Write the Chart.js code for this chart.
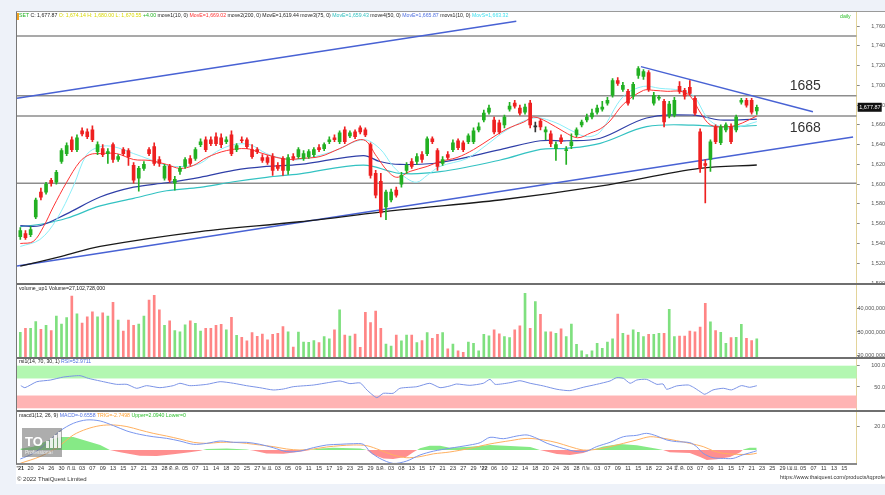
<!DOCTYPE html>
<html lang="th">
<head>
<meta charset="utf-8">
<title>SET daily</title>
<script src="https://cdn.jsdelivr.net/npm/chart.js@4.4.1/dist/chart.umd.min.js"></script>
<style>
  html, body { margin: 0; padding: 0; }
  body { width: 885px; height: 495px; background: #eef2f9; position: relative; overflow: hidden;
         font-family: "Liberation Sans", Arial, sans-serif; }
  #sheet { position: absolute; left: 16px; top: 11px; width: 869px; height: 473px; background: #fff; }
  canvas { position: absolute; left: 0; }
  .sep { position: absolute; left: 16px; width: 869px; background: #6f6f6f; }
  .txt { position: absolute; white-space: nowrap; font-size: 5.2px; color: #222; line-height: 1; }
  #mark { position: absolute; left: 22px; top: 428px; width: 40px; height: 29px; background: rgba(105,105,105,0.55);
          color: #fff; font-weight: bold; font-size: 13px; line-height: 1; }
  #mark i { position: absolute; bottom: 9px; width: 3px; background: rgba(255,255,255,0.85); }
</style>
</head>
<body>
<div id="sheet"></div>
<canvas id="cPrice" width="885" height="272" style="top:12px"></canvas>
<canvas id="cVol" width="885" height="72" style="top:285px"></canvas>
<canvas id="cRsi" width="885" height="51" style="top:359px"></canvas>
<canvas id="cMacd" width="885" height="64" style="top:412px"></canvas>

<div class="sep" style="top:11px;height:1px;background:#9a9a9a"></div>
<div class="sep" style="top:283px;height:2px"></div>
<div class="sep" style="top:357px;height:2px"></div>
<div class="sep" style="top:410px;height:2px"></div>
<div class="sep" style="top:463px;height:2px;width:841px;background:#8a8a8a"></div>
<div style="position:absolute;left:16px;top:12px;width:1px;height:452px;background:#777"></div>
<div style="position:absolute;left:17px;top:13px;width:2px;height:7px;background:#f0a020"></div>

<div class="txt" style="left:19px;top:13px">
  <span style="color:#22b322">SET</span> C: 1,677.87
  <span style="color:#d8d800">O: 1,674.14 H: 1,680.00 L: 1,670.55</span>
  <span style="color:#22b322">+4.00</span>
  move1(10, 0) <span style="color:#ff3030">MovE=1,669.02</span>
  move2(200, 0) MovE=1,619.44
  move3(75, 0) <span style="color:#30c0c0">MovE=1,659.43</span>
  move4(50, 0) <span style="color:#5070e0">MovE=1,665.87</span>
  movs1(10, 0) <span style="color:#40e0f0">MovS=1,663.32</span>
</div>
<div class="txt" style="left:840px;top:14px;color:#30c030">daily</div>
<div class="txt" style="left:19px;top:286px">volume_up1 Volume=27,102,728,000</div>
<div class="txt" style="left:19px;top:359px">rsi1(14, 70, 30, 1) <span style="color:#5070e0">RSI=52.9711</span></div>
<div class="txt" style="left:19px;top:413px">macd1(12, 26, 9) <span style="color:#5070e0">MACD=-0.6558</span>
  <span style="color:#ffa030">TRIG=-2.7498</span> <span style="color:#30c030">Upper=2.0940 Lower=0</span></div>
<div id="mark"><div style="position:absolute;left:3px;top:7px">TO</div>
  <i style="left:24px;height:7px"></i><i style="left:28px;height:10px"></i><i style="left:32px;height:13px"></i><i style="left:36px;height:16px"></i>
  <div style="position:absolute;left:3px;top:22px;font-size:5px;font-weight:normal;opacity:.8">Professional</div></div>
<div class="txt" style="left:17px;top:476px;font-size:6px;color:#333">© 2022 ThaiQuest Limited</div>
<div class="txt" style="left:780px;top:475px;font-size:5.5px;color:#333">https://www.thaiquest.com/products/tqprofessional</div>

<script>
// ============================================
// DATA - SET index, daily
// ============================================
const opens = [
  1547,1550,1549,1567,1592,1592,1604,1602,1623,1631,
  1645,1635,1654,1653,1655,1633,1636,1631,1640,1625,
  1635,1634,1619,1606,1616,1635,1638,1625,1606,1618,
  1601,1613,1618,1626,1626,1640,1645,1645,1648,1647,
  1643,1650,1635,1645,1645,1635,1635,1627,1627,1628,
  1619,1626,1614,1628,1628,1626,1628,1630,1637,1636,
  1643,1647,1643,1655,1649,1653,1657,1655,1640,1611,
  1603,1577,1584,1594,1600,1614,1623,1623,1630,1631,
  1646,1634,1621,1630,1635,1644,1642,1643,1643,1655,
  1665,1673,1665,1662,1660,1676,1682,1677,1673,1682,
  1658,1664,1653,1651,1636,1647,1634,1639,1650,1660,
  1665,1668,1673,1676,1682,1690,1705,1696,1694,1689,
  1710,1709,1713,1682,1687,1684,1669,1670,1699,1695,
  1698,1687,1653,1621,1625,1658,1642,1655,1658,1655,
  1683,1685,1685,1674.14
];
const highs = [
  1556,1553,1557,1586,1596,1602,1606,1614,1636,1642,
  1648,1650,1657,1656,1659,1643,1640,1636,1642,1630,
  1637,1636,1622,1618,1623,1637,1642,1628,1620,1620,
  1608,1618,1627,1629,1637,1646,1648,1648,1652,1651,
  1648,1654,1641,1648,1647,1640,1637,1630,1629,1631,
  1622,1628,1630,1631,1637,1634,1635,1637,1640,1642,
  1648,1650,1654,1658,1654,1655,1659,1657,1642,1614,
  1611,1594,1595,1597,1612,1622,1626,1631,1633,1648,
  1648,1636,1628,1633,1645,1646,1644,1651,1657,1662,
  1675,1680,1668,1665,1670,1683,1685,1680,1681,1685,
  1663,1666,1658,1654,1643,1650,1638,1651,1657,1665,
  1671,1676,1680,1684,1688,1707,1708,1703,1696,1703,
  1719,1716,1715,1693,1690,1686,1684,1688,1704,1697,
  1705,1689,1656,1625,1645,1660,1660,1662,1661,1670,
  1687,1687,1687,1680.00
];
const lows = [
  1544,1544,1547,1565,1584,1590,1598,1600,1621,1629,
  1633,1633,1649,1646,1643,1630,1628,1621,1622,1623,
  1629,1619,1601,1593,1614,1629,1619,1618,1604,1602,
  1594,1610,1616,1619,1624,1638,1633,1639,1639,1637,
  1641,1629,1633,1642,1636,1626,1631,1622,1620,1609,
  1614,1609,1610,1624,1626,1624,1626,1628,1633,1634,
  1641,1643,1641,1641,1647,1646,1651,1648,1606,1586,
  1567,1564,1582,1587,1597,1611,1616,1620,1622,1629,
  1641,1614,1619,1625,1633,1635,1633,1641,1641,1653,
  1663,1671,1651,1651,1657,1674,1677,1670,1671,1657,
  1653,1655,1645,1638,1624,1641,1620,1636,1648,1658,
  1663,1666,1671,1674,1680,1688,1700,1694,1680,1686,
  1707,1706,1694,1680,1685,1658,1667,1668,1692,1686,
  1690,1670,1612,1581,1613,1641,1640,1653,1641,1653,
  1681,1678,1671,1670.55
];
const closes = [
  1553,1546,1554,1584,1587,1600,1601,1612,1634,1639,
  1635,1647,1651,1648,1645,1640,1630,1633,1625,1628,
  1631,1628,1604,1616,1620,1631,1621,1621,1618,1604,
  1605,1616,1625,1621,1635,1643,1635,1641,1641,1640,
  1645,1631,1639,1644,1638,1628,1633,1624,1622,1614,
  1616,1614,1627,1626,1635,1631,1633,1635,1635,1640,
  1645,1645,1652,1643,1652,1648,1653,1650,1609,1589,
  1571,1592,1592,1589,1609,1619,1618,1628,1625,1646,
  1643,1618,1625,1627,1642,1637,1635,1649,1654,1658,
  1672,1677,1653,1653,1668,1679,1679,1672,1678,1660,
  1658,1658,1655,1641,1640,1643,1635,1643,1655,1663,
  1668,1672,1677,1678,1685,1705,1702,1700,1682,1701,
  1717,1714,1696,1690,1688,1663,1681,1685,1694,1689,
  1692,1672,1616,1619,1643,1643,1658,1660,1643,1668,
  1685,1680,1673,1677.87
];
// volume, millions
const volumes = [
  29.9,31.6,31.6,34.4,31.1,32.8,30.6,36.8,33.4,36.1,
  45.3,37.7,33.8,36.5,38.6,36.5,38.2,36.8,42.6,35.1,
  30.4,35.1,32.8,33.4,36.8,43.6,45.6,39.4,32.8,34.7,
  30.6,30.1,33.0,34.7,33.7,30.4,31.6,31.6,32.8,33.3,
  30.9,36.2,28.6,27.7,26.2,29.7,28.2,29.1,26.7,29.0,
  29.4,32.3,30.1,23.6,30.0,25.7,25.6,26.3,25.5,28.0,
  27.1,30.9,39.4,28.7,28.3,29.1,23.5,38.4,34.0,38.9,
  31.6,24.9,24.0,28.7,26.2,28.7,28.7,25.5,26.3,29.7,
  27.3,29.0,29.7,22.8,24.9,22.0,21.4,25.7,25.2,22.0,
  29.0,28.4,30.9,29.2,28.0,27.6,30.9,32.6,46.5,31.6,
  42.9,37.5,30.1,30.1,29.4,31.4,28.0,33.4,24.8,22.0,
  20.4,22.0,25.2,23.1,25.7,27.1,37.6,29.4,28.7,30.9,
  29.9,28.0,29.0,29.0,29.4,29.4,39.6,28.0,28.3,28.3,
  30.4,30.1,32.1,42.2,34.3,30.6,29.9,25.2,27.6,27.7,
  33.3,27.3,26.3,27.1
];

// moving averages: [day index, value]
const emaFast = [[0,1540],[2.5,1542],[4.5,1557],[6.4,1577],[9,1602],[11.6,1623],[13.5,1630],[15.5,1631],[18.7,1631],
  [22,1625],[25.2,1624],[28.4,1620],[31,1616],[33.6,1619],[36.2,1627],[40,1634],[43.9,1636],[46.5,1632],[49.8,1627],
  [52.4,1625],[54.3,1626],[58.2,1628],[62,1636],[66.6,1645],[69.2,1628],[71.2,1614],[73.1,1607],[75.7,1613],[79,1618],
  [81.5,1623],[84.8,1627],[88,1635],[91.3,1646],[94.5,1656],[97.8,1663],[99.7,1668],[102.3,1663],[105.6,1653],
  [108.2,1647],[110.8,1652],[112.6,1656],[114.5,1664],[117.1,1681],[121,1695],[123,1695],[125.6,1694],[128.2,1694],
  [130.1,1689],[132.1,1672],[134,1660],[136.6,1658],[139.2,1660],[143,1669.02]];
const smaFast = [[0,1537],[3.8,1544],[7,1564],[10.3,1598],[12.9,1630],[15.5,1638],[18.1,1638],[22,1631],[25.2,1625],
  [28.4,1619],[31.6,1618],[34.9,1621],[38.1,1633],[41.4,1640],[44.6,1640],[47.8,1631],[51.1,1626],[54.3,1625],
  [60.6,1633],[66.6,1645],[69.8,1636],[72.4,1618],[75,1606],[77,1602],[79,1609],[81.5,1618],[86.7,1626],[90.6,1640],
  [94.5,1655],[99.7,1667],[103.6,1663],[107.5,1653],[110.1,1648],[112.6,1653],[117.1,1689],[121,1699],[124.2,1697],
  [128.2,1695],[130.8,1689],[133.4,1667],[136,1658],[138.6,1657],[143,1663.32]];
const ema50 = [[0,1558],[3.8,1558],[9,1570],[15.5,1587],[22,1597],[28.4,1601.5],[34.9,1607],[41.4,1614],[47.8,1618],
  [54.3,1620],[66.6,1629],[69.8,1623],[73.7,1620],[81.5,1622],[93.2,1635],[101,1644],[106.1,1644],[112.6,1646.5],
  [121.6,1667],[130.7,1670],[135.9,1665],[143,1665.87]];
const ema75 = [[0,1557],[4.5,1560],[9,1565.5],[15.5,1578],[22,1585.7],[28.4,1593.4],[34.9,1596.8],[41.4,1602.5],
  [47.8,1607],[54.3,1610.5],[66.6,1619.4],[73.7,1611],[81.5,1612.7],[93.2,1624.5],[101,1635.3],[106.1,1636.3],
  [112.6,1641.4],[121.6,1658.2],[130.7,1659.9],[135.9,1658.2],[143,1659.43]];
const ema200 = [[0,1517],[8,1527],[15.5,1537],[34.9,1552],[54.3,1562],[73.7,1574],[93.1,1584],[112.5,1598],
  [131.9,1616],[143,1619.44]];

// drawn trend lines and levels
const channelTop = [[-0.64,1687],[96.3,1765]];
const channelBottom = [[-0.64,1517.2],[161.7,1647.8]];
const fallingLine = [[120.5,1719],[153.9,1673.4]];
const levels = [1750, 1689.5, 1669, 1601];
const levelNotes = [['1685', 1689.5, 'above'], ['1668', 1669, 'below']];

// RSI 14
const rsi = [[0.1,53.1],[0.9,48.4],[3.2,62.4],[5.8,66.2],[8.4,73.4],[11.6,76.6],[13.2,70.3],[15.5,64.1],[18.7,56.2],
  [20.7,56.2],[22.6,46.9],[24.5,53.1],[27.1,48.4],[29.7,53.1],[31,58.7],[32.9,53.1],[36.2,56.2],[38.8,62.4],
  [41.4,58.7],[43.9,53.1],[46.5,48.4],[49.1,43],[51.1,45.3],[53,50.7],[56.9,54.6],[60.1,60.9],[62.1,64.1],
  [64,57.9],[66,59.5],[67.3,43],[69.2,25],[70.5,35.2],[72.4,35.2],[73.7,46.9],[77,50.7],[79.5,58.7],[81.5,48.4],
  [83.4,52.4],[84.7,57],[87.3,53.9],[89.9,58.7],[91.2,67.9],[92.2,56.2],[95.1,60.1],[97,64.7],[99,58.7],
  [101.6,52.4],[104.2,44.6],[106.7,41.4],[109.3,49.3],[111.9,56.2],[114.5,64.1],[115.8,71.9],[117.1,70.3],
  [118.4,58.7],[119.7,66.4],[121.6,67.9],[123.6,56.2],[124.8,57],[125.5,44.6],[127.4,52.4],[129.7,54.7],
  [130.7,49.3],[132,39.1],[132.9,32.9],[134.5,43.1],[136.5,47],[138.1,43.1],[140,53.2],[141.6,49.3],[143,52.97]];
const rsiUpperBand = [70, 100];
const rsiLowerBand = [0, 30];

// MACD 12,26,9
const macdLine = [[0,-7.7],[2.5,-2.9],[5.1,5.7],[7.7,16.3],[10.3,22.9],[12.9,25.8],[15.5,24.9],[18.1,20.9],[20.7,16.3],
  [23.2,13.4],[25.8,11.4],[28.4,10],[31,7.7],[33.6,4.9],[36.2,5.7],[38.8,7.7],[41.4,6.6],[43.9,6.6],[46.5,4.9],
  [49.1,2],[51.7,-1.4],[54.3,-0.9],[56.9,2],[59.5,4.3],[62.1,4.9],[64.7,5.4],[66.6,4.9],[67.9,-1.4],[69.8,-7.2],
  [72.4,-11.5],[75,-9.5],[77.6,-4.3],[80.2,-1],[83.4,1.5],[87.3,4.3],[89.3,6.3],[91.2,10.9],[93.8,9.7],[96.4,12],
  [98.4,12.9],[100.3,10],[102.3,5.7],[105.4,1.4],[108.1,-1.4],[110,-0.9],[111.9,2.9],[114.5,6.6],[117.1,11.4],
  [119.7,12.6],[121.6,14.3],[123.6,12],[125.5,8.6],[127.4,7.2],[130,6.3],[131.3,2.9],[132.6,-2.9],[134.5,-6.6],
  [136.5,-7.2],[138.4,-7.2],[140.2,-4.3],[143,-0.66]];
const macdSignal = [[0,-11.4],[3.8,-5.7],[7.1,2],[10.3,12.9],[12.9,18],[15.5,20.9],[18.1,21.5],[20.7,20.1],[23.2,17.2],
  [25.8,14.3],[28.4,12],[31,9.4],[33.6,6.6],[36.2,5.7],[38.8,6.6],[41.4,6.6],[43.9,5.7],[46.5,4.3],[49.1,2.9],
  [51.7,0.9],[54.3,0],[56.9,0.9],[59.5,2.6],[62.1,3.7],[64.7,4.3],[67.3,3.7],[69.8,0],[72.4,-4.3],[75,-6.6],
  [77.6,-5.7],[80.2,-3.3],[83.4,-1.7],[87.3,1.4],[91.2,5.2],[95.1,8],[98.4,10],[101.6,8.6],[104.2,6.3],[106.7,2.9],
  [109.3,0],[111.9,0.6],[114.5,2.9],[117.1,5.7],[119.7,8.6],[122.3,11.4],[124.9,10],[127.4,8],[130,5.7],[132.6,2.9],
  [134.5,-0.6],[136.5,-2.9],[139.1,-3.7],[141.7,-3.7],[143,-2.75]];
const macdHist = [[0,1],[2.5,2.9],[5.1,7.7],[7.7,11.2],[10.3,11.2],[12.9,7.7],[15.5,4.3],[17.4,0],[19.4,-2],[23.2,-4.9],
  [26.5,-5.2],[29.7,-3.7],[32.9,-2],[34.9,-0.6],[36.2,0.8],[40.1,1.2],[43.9,0.5],[45.2,-0.5],[47.8,-2.9],[51.1,-3.2],
  [54.3,-1.4],[56.3,0],[58.2,1.2],[60.8,2],[66,1.4],[67.3,0],[68.5,-4],[70.5,-7.2],[72.4,-7.7],[75,-5.7],[76.3,-2],
  [77.6,1.5],[79.5,3.7],[81.5,3.7],[83.4,2],[87.3,2.9],[91.2,4.3],[95.1,3.5],[99,2.5],[100.9,0],[104.2,-3.5],
  [106.7,-4.3],[109.3,-2.5],[110.9,0],[113.2,3],[116.4,5.2],[119.7,4],[123.6,1],[124.8,0],[126.1,-2],[130,-2.5],
  [132,-6],[133.3,-8.6],[135.2,-8],[137.8,-6],[139.8,-2],[140.4,0.5],[141.6,2],[143,2]];

// axes
const priceTicks = [1500,1520,1540,1560,1580,1600,1620,1640,1660,1680,1700,1720,1740,1760];
const volumeTicks = [20e6, 30e6, 40e6];
const rsiTicks = [50, 100];
const macdTicks = [20];
const xTickLabels = ["'21","20","24","26","30","ก.ย.","03","07","09","13","15","17","21","23","28","ต.ค.","05","07",
  "11","14","18","20","25","27","พ.ย.","03","05","09","11","15","17","19","23","25","29","ธ.ค.","03","08","13","15",
  "17","21","23","27","29","'22","06","10","12","14","18","20","24","26","28","ก.พ.","03","07","09","11","15","18",
  "22","24","มี.ค.","03","07","09","11","15","17","21","23","25","29","เม.ย.","05","07","11","13","15"];
const lastClose = closes[closes.length - 1];

// ============================================
// CHARTS
// ============================================
const FONT = '"Liberation Sans", Arial, sans-serif';
const X_MIN = -0.7, X_MAX = 162.4;
const COL = { up: '#22b022', down: '#ee2020', flat: '#333333' };

const days = opens.map((_, i) => i);
const candleColors = days.map(i => closes[i] > opens[i] ? COL.up : closes[i] < opens[i] ? COL.down : COL.flat);
const volColors = days.map(i => closes[i] >= opens[i] ? '#7fe07f' : '#ff8585');

function noPad(s) { s.paddingTop = 0; s.paddingBottom = 0; s.paddingLeft = 0; s.paddingRight = 0; }

function xAxis(show) {
  const ax = { type: 'linear', min: X_MIN, max: X_MAX, display: show, offset: false,
               grid: { display: false, drawTicks: false, tickLength: 0, offset: false }, border: { display: false } };
  if (!show) return ax;
  return { ...ax,
    afterBuildTicks: s => { s.ticks = xTickLabels.map((t, i) => ({ value: i * 2 })); },
    afterFit: s => { s.height = 12; noPad(s); },
    ticks: {
      autoSkip: false, maxRotation: 0, minRotation: 0, padding: 1, color: '#333',
      font: ctx => ({ family: FONT, size: 5.5, weight: String(xTickLabels[ctx.index]).startsWith("'") ? 'bold' : 'normal' }),
      callback: v => xTickLabels[Math.round(v / 2)]
    }
  };
}

function yAxis(min, max, values, fmt) {
  return {
    position: 'right', min, max,
    afterFit: s => { s.width = 28.3; noPad(s); },
    afterBuildTicks: s => { s.ticks = values.map(v => ({ value: v })); },
    grid: { drawOnChartArea: false, tickLength: 3, color: '#888' },
    border: { color: '#e3d49a', width: 1 },
    ticks: { crossAlign: 'far', padding: 2, color: '#555', font: { family: FONT, size: 5.5 }, callback: fmt }
  };
}

function pts(list) { return list.map(p => ({ x: p[0], y: p[1] })); }

function line(list, color, width, order, tension) {
  return { type: 'line', data: pts(list), borderColor: color, borderWidth: width, pointRadius: 0,
           tension: tension === undefined ? 0.35 : tension, order, fill: false };
}

const base = {
  responsive: false, animation: false, devicePixelRatio: 1, events: [],
  layout: { padding: { left: 16.7, right: 0, top: 0, bottom: 0 } },
  plugins: { legend: { display: false }, tooltip: { enabled: false } }
};

// price tag + level notes
const priceNotes = {
  id: 'priceNotes',
  afterDraw(chart) {
    const { ctx, chartArea: a, scales: { x, y } } = chart;
    ctx.save();
    ctx.font = '14px ' + FONT;
    ctx.fillStyle = '#333';
    levelNotes.forEach(([txt, v, side]) => {
      const py = y.getPixelForValue(v);
      ctx.textBaseline = side === 'above' ? 'bottom' : 'top';
      ctx.fillText(txt, x.getPixelForValue(149.4), side === 'above' ? py - 3 : py + 5);
    });
    const ty = y.getPixelForValue(lastClose);
    ctx.fillStyle = '#111';
    ctx.fillRect(a.right + 1, ty - 4.5, 24, 9);
    ctx.fillStyle = '#fff';
    ctx.font = '5.5px ' + FONT;
    ctx.textBaseline = 'middle';
    ctx.fillText(lastClose.toLocaleString('en-US', { minimumFractionDigits: 2 }), a.right + 2.5, ty);
    ctx.restore();
  }
};

new Chart(document.getElementById('cPrice'), {
  type: 'bar',
  data: {
    datasets: [
      { data: days.map(i => ({ x: i, y: [opens[i], closes[i]] })), backgroundColor: candleColors,
        barThickness: 3, grouped: false, minBarLength: 1, order: 0 },
      { data: days.map(i => ({ x: i, y: [lows[i], highs[i]] })), backgroundColor: candleColors,
        barThickness: 1, grouped: false, order: 1 },
      line(emaFast, '#ff3434', 1, 2),
      line(smaFast, '#8aeef8', 1, 3),
      line(ema50, '#2f3fa8', 1.2, 4),
      line(ema75, '#33c2c2', 1.2, 5),
      line(ema200, '#1a1a1a', 1.3, 6),
      line(channelTop, '#4862d4', 1.5, 7, 0),
      line(channelBottom, '#4862d4', 1.5, 7, 0),
      line(fallingLine, '#4862d4', 1.5, 7, 0),
      ...levels.map(v => line([[X_MIN, v], [X_MAX, v]], '#8d8d8d', 1.5, 8, 0))
    ]
  },
  options: { ...base,
    scales: { x: xAxis(false), y: yAxis(1499, 1774.3, priceTicks, v => v.toLocaleString('en-US')) } },
  plugins: [priceNotes]
});

new Chart(document.getElementById('cVol'), {
  type: 'bar',
  data: { datasets: [{ data: days.map(i => ({ x: i, y: volumes[i] * 1e6 })), backgroundColor: volColors, barThickness: 2 }] },
  options: { ...base,
    scales: { x: xAxis(false), y: yAxis(19.36e6, 50e6, volumeTicks, v => v.toLocaleString('en-US')) } }
});

const rsiBands = {
  id: 'rsiBands',
  beforeDatasetsDraw(chart) {
    const { ctx, chartArea: a, scales: { y } } = chart;
    ctx.save();
    [[rsiUpperBand, '#b3f7b1'], [rsiLowerBand, '#ffb4b4']].forEach(([b, c]) => {
      const top = y.getPixelForValue(b[1]), bot = y.getPixelForValue(b[0]);
      ctx.fillStyle = c;
      ctx.fillRect(a.left, top, a.width, bot - top);
    });
    ctx.restore();
  }
};

new Chart(document.getElementById('cRsi'), {
  type: 'line',
  data: { datasets: [line(rsi, '#7b93e6', 1, 0, 0.2)] },
  options: { ...base,
    scales: { x: xAxis(false), y: yAxis(-4, 115.7, rsiTicks, v => v.toFixed(1)) } },
  plugins: [rsiBands]
});

new Chart(document.getElementById('cMacd'), {
  type: 'line',
  data: {
    datasets: [
      { data: pts(macdHist), borderWidth: 0, pointRadius: 0, tension: 0, order: 3,
        fill: { target: 'origin', above: '#86ea86', below: '#ff8f8f' } },
      line(macdSignal, '#ffb060', 1, 1, 0.3),
      line(macdLine, '#7a96ee', 1, 0, 0.3)
    ]
  },
  options: { ...base,
    scales: { x: xAxis(true), y: yAxis(-12, 32.6, macdTicks, v => v.toFixed(1)) } }
});
</script>
</body>
</html>
